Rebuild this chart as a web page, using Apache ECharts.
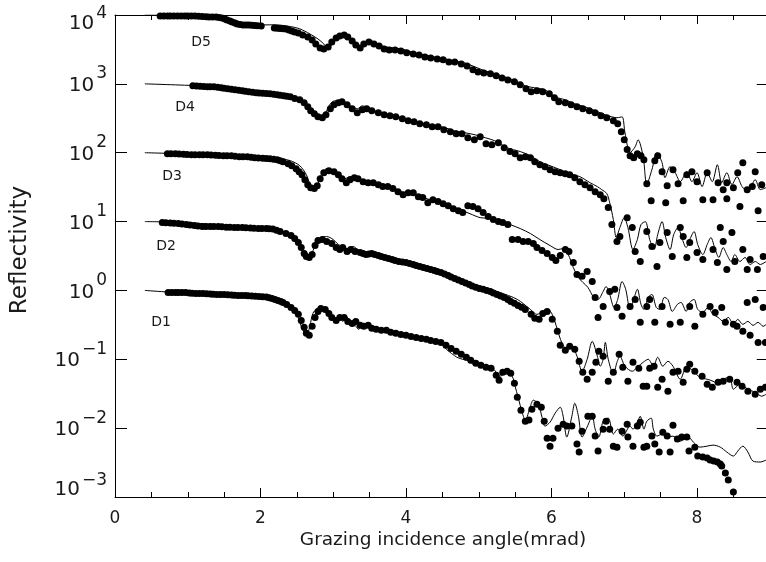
<!DOCTYPE html>
<html><head><meta charset="utf-8">
<script src="https://cdn.jsdelivr.net/npm/echarts@6/dist/echarts.min.js"></script>
<style>html,body{margin:0;padding:0;background:#fff}#c{width:766px;height:562px}</style>
</head><body><div id="c"></div>
<script>
// ---------------- DATA ----------------
const sampleNames = ['D1', 'D2', 'D3', 'D4', 'D5'];
const xTitle = 'Grazing incidence angle(mrad)';
const yTitle = 'Reflectivity';

const d1Dots = [[0.73,0.936],[0.78,0.936],[0.83,0.936],[0.87,0.936],[0.92,0.936],[0.97,0.93],[1.02,0.92],[1.06,0.912],[1.11,0.905],[1.16,0.905],[1.21,0.905],[1.26,0.898],[1.31,0.89],[1.35,0.883],[1.40,0.875],[1.45,0.875],[1.50,0.875],[1.55,0.868],[1.60,0.86],[1.64,0.853],[1.69,0.846],[1.74,0.846],[1.79,0.846],[1.83,0.838],[1.88,0.83],[1.93,0.825],[1.98,0.819],[2.03,0.812],[2.08,0.805],[2.12,0.786],[2.16,0.766],[2.20,0.74],[2.24,0.716],[2.28,0.693],[2.31,0.67],[2.36,0.627],[2.42,0.567],[2.47,0.513],[2.52,0.449],[2.56,0.367],[2.60,0.291],[2.63,0.238],[2.67,0.223],[2.71,0.301],[2.75,0.406],[2.79,0.496],[2.83,0.548],[2.89,0.53],[2.94,0.464],[2.98,0.406],[3.04,0.367],[3.09,0.406],[3.15,0.406],[3.20,0.355],[3.26,0.332],[3.31,0.355],[3.37,0.311],[3.42,0.301],[3.48,0.311],[3.53,0.282],[3.59,0.272],[3.66,0.263],[3.73,0.263],[3.79,0.246],[3.86,0.238],[3.93,0.23],[4.00,0.223],[4.07,0.215],[4.14,0.208],[4.21,0.201],[4.28,0.195],[4.34,0.188],[4.41,0.182],[4.48,0.176],[4.55,0.16],[4.62,0.144],[4.69,0.131],[4.76,0.118],[4.83,0.107],[4.89,0.0967],[4.96,0.0875],[5.03,0.0819],[5.10,0.0766],[5.17,0.0741],[5.24,0.0586],[5.28,0.0496],[5.33,0.0648],[5.39,0.067],[5.44,0.0627],[5.49,0.0449],[5.53,0.0282],[5.58,0.0182],[5.64,0.0126],[5.69,0.0131],[5.73,0.0188],[5.80,0.0223],[5.86,0.0201],[5.90,0.0126],[5.94,0.00716],[5.98,0.00548],[6.02,0.00716],[6.09,0.01],[6.16,0.0114],[6.21,0.0107],[6.28,0.0107],[6.35,0.00586],[6.38,0.00449],[6.42,0.00905],[6.50,0.0149],[6.56,0.0149],[6.60,0.00766],[6.64,0.00464],[6.71,0.00967],[6.75,0.0126],[6.80,0.00967],[6.85,0.00548],[6.90,0.0053],[6.97,0.00905],[7.04,0.0114],[7.05,0.00741],[7.12,0.00548],[7.18,0.0107],[7.22,0.0122],[7.27,0.0053],[7.31,0.00548],[7.38,0.00766],[7.42,0.00586],[7.48,0.00449],[7.53,0.00875],[7.59,0.00766],[7.63,0.00449],[7.67,0.011],[7.73,0.00693],[7.79,0.00741],[7.86,0.00741],[7.89,0.00464],[7.97,0.0053],[8.01,0.00393],[8.08,0.0038],[8.14,0.00367],[8.18,0.00344],[8.23,0.00332],[8.28,0.00322],[8.32,0.00301],[8.34,0.00282],[8.39,0.00223],[8.43,0.00176],[8.50,0.00118]];
const d1Fit = [[0.41,1],[0.73,0.95],[1.17,0.92],[1.58,0.875],[1.99,0.819],[2.16,0.766],[2.27,0.693],[2.38,0.606],[2.46,0.513],[2.52,0.406],[2.56,0.301],[2.60,0.246],[2.64,0.23],[2.68,0.311],[2.72,0.464],[2.78,0.548],[2.83,0.567],[2.89,0.53],[2.96,0.434],[3.02,0.38],[3.08,0.434],[3.13,0.355],[3.19,0.406],[3.24,0.355],[3.30,0.311],[3.35,0.272],[3.41,0.332],[3.46,0.311],[3.53,0.272],[3.64,0.255],[3.78,0.246],[3.92,0.23],[4.06,0.215],[4.19,0.208],[4.33,0.195],[4.47,0.17],[4.56,0.138],[4.70,0.107],[4.78,0.1],[4.88,0.0936],[4.92,0.0846],[5.20,0.0716],[5.29,0.0567],[5.39,0.0648],[5.46,0.0567],[5.50,0.0406],[5.54,0.0282],[5.60,0.0165],[5.64,0.0131],[5.71,0.0208],[5.75,0.0255],[5.82,0.0223],[5.87,0.0144],[5.91,0.0107],[5.98,0.0122],[6.05,0.0165],[6.12,0.0201],[6.16,0.0149],[6.21,0.00741],[6.28,0.0149],[6.32,0.023],[6.37,0.0149],[6.42,0.00741],[6.49,0.0104],[6.56,0.0149],[6.60,0.00967],[6.65,0.00741],[6.71,0.0126],[6.78,0.014],[6.85,0.00819],[6.91,0.00967],[6.98,0.00766],[7.08,0.0107],[7.12,0.00967],[7.18,0.0122],[7.22,0.0149],[7.27,0.00967],[7.31,0.0126],[7.37,0.014],[7.40,0.00967],[7.45,0.00766],[7.52,0.00819],[7.59,0.00741],[7.67,0.00766],[7.77,0.00648],[7.88,0.00741],[7.95,0.00627],[8.04,0.0053],[8.14,0.00548],[8.22,0.00567],[8.32,0.0053],[8.41,0.00449],[8.50,0.00393],[8.56,0.00464],[8.63,0.00548],[8.70,0.00449],[8.77,0.00332],[8.87,0.00322],[8.95,0.00344]];

const d2Dots = [[0.65,9.67],[0.70,9.6],[0.76,9.5],[0.81,9.43],[0.87,9.36],[0.92,9.2],[0.98,9.05],[1.03,8.9],[1.09,8.75],[1.14,8.6],[1.20,8.46],[1.25,8.46],[1.31,8.46],[1.36,8.46],[1.42,8.46],[1.47,8.38],[1.53,8.3],[1.58,8.25],[1.64,8.19],[1.69,8.19],[1.75,8.19],[1.80,8.12],[1.86,8.05],[1.91,7.98],[1.97,7.92],[2.02,7.92],[2.08,7.92],[2.12,7.86],[2.17,7.8],[2.22,7.5],[2.27,7.16],[2.35,6.7],[2.42,6.27],[2.47,5.67],[2.52,4.96],[2.56,4.2],[2.60,3.44],[2.63,3.11],[2.67,3.01],[2.71,3.32],[2.75,4.49],[2.79,5.3],[2.85,5.48],[2.91,5.13],[2.98,4.8],[3.04,4.2],[3.09,3.93],[3.13,4.2],[3.19,3.67],[3.24,3.93],[3.30,3.67],[3.37,3.55],[3.41,3.45],[3.45,3.32],[3.49,3.38],[3.53,3.44],[3.57,3.33],[3.62,3.22],[3.66,3.11],[3.71,3.01],[3.76,2.92],[3.81,2.82],[3.85,2.72],[3.90,2.63],[3.95,2.59],[4.00,2.55],[4.05,2.46],[4.10,2.38],[4.14,2.3],[4.19,2.23],[4.24,2.15],[4.29,2.08],[4.34,2.01],[4.39,1.95],[4.43,1.88],[4.48,1.82],[4.53,1.73],[4.58,1.65],[4.62,1.57],[4.67,1.49],[4.72,1.42],[4.77,1.35],[4.82,1.28],[4.87,1.22],[4.91,1.16],[4.96,1.11],[5.01,1.07],[5.06,1.04],[5.11,1.0],[5.16,0.967],[5.20,0.92],[5.25,0.875],[5.30,0.83],[5.35,0.792],[5.40,0.74],[5.44,0.693],[5.49,0.65],[5.54,0.606],[5.59,0.57],[5.64,0.53],[5.72,0.449],[5.77,0.393],[5.83,0.38],[5.88,0.464],[5.94,0.496],[6.01,0.38],[6.08,0.255],[6.12,0.16],[6.19,0.135],[6.25,0.154],[6.32,0.14],[6.38,0.0936],[6.43,0.0648],[6.49,0.0513],[6.56,0.0648],[6.61,0.0905],[6.65,0.131],[6.71,0.111],[6.78,0.048],[6.85,0.0648],[6.93,0.118],[6.98,0.0766],[7.05,0.048],[7.12,0.0905],[7.20,0.0741],[7.26,0.0406],[7.31,0.0406],[7.35,0.0741],[7.41,0.0792],[7.46,0.0393],[7.52,0.0513],[7.60,0.0344],[7.67,0.0648],[7.74,0.067],[7.81,0.0464],[7.86,0.0716],[7.90,0.0846],[7.97,0.067],[8.07,0.0567],[8.14,0.0434],[8.21,0.0393],[8.29,0.0464],[8.36,0.048],[8.45,0.0513],[8.55,0.0464],[8.62,0.0406],[8.70,0.0344],[8.80,0.0311],[8.87,0.0367],[8.94,0.0393]];
const d2Fit = [[0.41,10],[0.76,9.84],[1.17,9.36],[1.58,8.75],[1.99,8.19],[2.20,7.66],[2.34,6.93],[2.43,6.06],[2.50,5.13],[2.56,4.06],[2.60,3.32],[2.65,3.01],[2.71,3.55],[2.76,4.8],[2.83,5.86],[2.91,6.06],[3.00,5.48],[3.07,4.64],[3.13,4.34],[3.20,4.06],[3.27,4.34],[3.34,3.93],[3.42,3.55],[3.51,3.55],[3.64,3.22],[3.78,3.01],[3.92,2.72],[4.06,2.55],[4.19,2.3],[4.33,2.08],[4.47,1.88],[4.61,1.65],[4.74,1.4],[4.88,1.22],[5.06,1.13],[5.29,0.936],[5.53,0.741],[5.71,0.53],[5.80,0.449],[5.88,0.496],[5.95,0.53],[6.01,0.449],[6.08,0.272],[6.14,0.176],[6.21,0.14],[6.28,0.154],[6.35,0.111],[6.42,0.067],[6.49,0.1],[6.56,0.182],[6.63,0.111],[6.67,0.0792],[6.71,0.1],[6.74,0.176],[6.78,0.1],[6.85,0.0606],[6.90,0.0905],[6.94,0.111],[7.01,0.0792],[7.11,0.067],[7.18,0.0766],[7.26,0.0905],[7.33,0.1],[7.40,0.0792],[7.46,0.107],[7.53,0.0792],[7.60,0.0936],[7.67,0.0792],[7.77,0.0513],[7.86,0.0792],[7.95,0.067],[8.04,0.0548],[8.14,0.0513],[8.22,0.048],[8.29,0.0434],[8.36,0.0513],[8.45,0.0548],[8.50,0.0367],[8.59,0.0434],[8.70,0.0367],[8.80,0.0332],[8.89,0.0291],[8.95,0.0311]];

const d3Dots = [[0.72,96.7],[0.77,96.7],[0.83,96.7],[0.88,95.8],[0.94,95],[0.99,94.3],[1.05,93.6],[1.10,93.6],[1.16,93.6],[1.21,93.6],[1.27,93.6],[1.32,92.8],[1.38,92],[1.43,91.2],[1.49,90.5],[1.54,90.5],[1.60,90.5],[1.65,89],[1.71,87.5],[1.76,87.5],[1.82,87.5],[1.87,86],[1.92,84.6],[1.97,83.8],[2.03,83],[2.08,82.4],[2.13,81.9],[2.18,80.5],[2.23,79.2],[2.27,76.6],[2.31,74.1],[2.38,69.3],[2.43,64.8],[2.49,58.6],[2.53,53],[2.57,48],[2.61,40.6],[2.65,34.4],[2.69,31.1],[2.74,30.1],[2.78,33.2],[2.82,42],[2.87,51.3],[2.94,54.8],[3.01,53],[3.07,48],[3.12,42],[3.18,36.7],[3.23,40.6],[3.29,43.4],[3.34,42],[3.41,38],[3.48,36.7],[3.55,36.7],[3.62,34.4],[3.68,32.2],[3.75,32.2],[3.82,30.1],[3.89,27.2],[3.96,24.6],[4.03,26.3],[4.10,26.3],[4.17,23],[4.23,22.3],[4.30,18.8],[4.37,20.8],[4.44,19.5],[4.51,18.2],[4.58,17],[4.65,15.4],[4.72,14.4],[4.78,13.5],[4.85,17],[4.92,16.5],[4.99,15.4],[5.06,13.5],[5.13,11.8],[5.20,10.7],[5.27,10],[5.33,9.67],[5.40,9.05],[5.46,5.48],[5.54,5.48],[5.61,5.13],[5.68,5.13],[5.75,4.8],[5.80,4.2],[5.87,3.8],[5.94,3.44],[6.01,3.01],[6.06,2.72],[6.12,3.22],[6.19,3.93],[6.24,3.67],[6.30,2.55],[6.35,1.7],[6.42,1.6],[6.49,1.88],[6.56,1.35],[6.60,0.792],[6.64,0.406],[6.71,0.586],[6.80,0.967],[6.87,1.04],[6.90,0.567],[6.97,0.42],[7.08,0.586],[7.15,0.741],[7.22,0.344],[7.31,0.586],[7.35,0.741],[7.42,0.344],[7.52,0.586],[7.63,0.322],[7.77,0.344],[7.90,0.586],[7.97,0.301],[8.08,0.449],[8.18,0.586],[8.25,0.48],[8.34,0.567],[8.39,0.344],[8.50,0.322],[8.55,0.301],[8.63,0.255],[8.69,0.67],[8.73,0.223],[8.80,0.741],[8.84,0.176],[8.91,0.567],[8.94,0.176]];
const d3Fit = [[0.41,100],[1.17,95],[1.86,90.5],[2.20,84.6],[2.41,76.6],[2.54,64.8],[2.63,48],[2.68,34.4],[2.72,29.1],[2.78,33.2],[2.83,46.4],[2.91,58.6],[3.00,54.8],[3.09,46.4],[3.16,42],[3.23,44.9],[3.31,40.6],[3.40,39.3],[3.51,36.7],[3.64,33.2],[3.78,30.1],[3.92,27.2],[4.06,25.5],[4.19,23],[4.33,20.8],[4.47,18.8],[4.61,17],[4.74,14.9],[4.88,13],[5.02,11.4],[5.16,11.1],[5.29,10.4],[5.43,9.05],[5.57,7.92],[5.71,6.7],[5.84,5.48],[5.98,4.49],[6.09,3.93],[6.16,4.06],[6.23,3.32],[6.30,2.15],[6.37,1.54],[6.43,1.31],[6.50,1.11],[6.58,0.792],[6.64,0.741],[6.71,0.967],[6.75,1.14],[6.80,0.875],[6.86,0.567],[6.91,0.741],[6.97,1.35],[7.02,1.04],[7.08,0.53],[7.13,0.741],[7.18,1.04],[7.23,0.627],[7.27,0.53],[7.33,0.792],[7.38,0.875],[7.44,0.567],[7.49,0.53],[7.55,0.792],[7.60,0.741],[7.66,0.496],[7.73,0.627],[7.78,0.67],[7.85,0.496],[7.90,0.67],[7.96,0.741],[8.01,0.53],[8.08,0.48],[8.15,0.567],[8.22,0.449],[8.29,0.406],[8.36,0.355],[8.43,0.406],[8.50,0.322],[8.56,0.38],[8.63,0.322],[8.70,0.355],[8.77,0.311],[8.84,0.344],[8.91,0.301],[8.95,0.322]];

const d4Dots = [[1.07,936],[1.12,928],[1.17,920],[1.22,912],[1.27,905],[1.31,905],[1.36,905],[1.41,890],[1.46,875],[1.50,860],[1.55,846],[1.60,832],[1.65,819],[1.70,805],[1.75,792],[1.79,779],[1.84,766],[1.89,753],[1.94,741],[1.98,734],[2.03,728],[2.08,722],[2.13,716],[2.18,704],[2.23,693],[2.27,681],[2.32,670],[2.36,659],[2.41,648],[2.47,615],[2.54,586],[2.60,530],[2.65,464],[2.69,406],[2.74,367],[2.79,332],[2.85,322],[2.90,355],[2.96,434],[3.01,496],[3.07,530],[3.12,548],[3.19,496],[3.26,434],[3.33,380],[3.40,420],[3.46,434],[3.53,406],[3.62,380],[3.70,355],[3.78,344],[3.86,332],[3.95,311],[4.03,291],[4.11,282],[4.19,263],[4.28,255],[4.36,238],[4.44,238],[4.52,215],[4.61,201],[4.69,188],[4.77,188],[4.85,165],[4.94,154],[5.02,170],[5.10,135],[5.18,131],[5.27,140],[5.35,118],[5.43,104],[5.50,96.7],[5.57,84.6],[5.64,87.5],[5.71,84.6],[5.77,74.1],[5.84,67],[5.91,62.7],[5.98,56.7],[6.05,53],[6.12,51.3],[6.19,49.6],[6.25,48],[6.32,43.4],[6.39,38],[6.46,34.4],[6.53,31.1],[6.60,27.2],[6.67,24.6],[6.72,21.5],[6.78,16],[6.83,9.05],[6.90,5.13],[6.94,6.06],[7.04,11.4],[7.11,8.19],[7.15,3.67],[7.22,2.63],[7.31,7.16],[7.38,4.34],[7.45,2.23],[7.49,4.96],[7.59,6.93],[7.66,3.11],[7.77,8.19],[7.81,6.06],[7.86,3.01],[7.90,4.96],[8.00,3.55],[8.08,2.82],[8.22,3.93],[8.28,2.55],[8.32,8.19],[8.36,5.13],[8.41,2.01],[8.48,6.93],[8.52,2.63],[8.59,16.5],[8.63,3.93],[8.69,2.01],[8.73,2.82],[8.83,2.01],[8.84,14.4],[8.91,3.11]];
const d4Fit = [[0.41,1000],[1.17,936],[1.58,875],[1.99,766],[2.41,670],[2.54,606],[2.65,496],[2.74,393],[2.82,344],[2.89,380],[2.96,513],[3.02,567],[3.09,548],[3.18,513],[3.26,464],[3.33,434],[3.40,480],[3.48,449],[3.57,406],[3.71,367],[3.85,344],[3.99,311],[4.12,291],[4.26,263],[4.40,246],[4.54,230],[4.67,208],[4.81,195],[4.95,182],[5.09,165],[5.22,149],[5.39,118],[5.57,104],[5.71,90.5],[5.84,74.1],[5.98,64.8],[6.12,56.7],[6.25,49.6],[6.39,44.9],[6.53,36.7],[6.63,32.2],[6.69,29.1],[6.76,25.5],[6.80,18.8],[6.85,10.7],[6.89,5.86],[6.94,8.19],[7.00,11.4],[7.05,8.19],[7.12,3.93],[7.18,5.48],[7.23,9.05],[7.29,10],[7.35,5.48],[7.41,3.93],[7.46,6.48],[7.52,10],[7.57,5.86],[7.63,3.93],[7.68,6.48],[7.74,8.19],[7.79,5.86],[7.85,4.2],[7.90,5.48],[7.96,7.16],[8.01,4.64],[8.08,3.32],[8.14,4.64],[8.19,5.86],[8.25,3.93],[8.30,3.01],[8.36,4.2],[8.41,3.32],[8.47,2.63],[8.52,3.32],[8.59,2.63],[8.66,3.01],[8.73,2.38],[8.80,2.63],[8.87,2.38],[8.95,2.63]];

const d5Dots = [[0.62,9670],[0.67,9670],[0.72,9670],[0.76,9670],[0.81,9670],[0.86,9670],[0.91,9670],[0.96,9670],[1.00,9670],[1.05,9670],[1.10,9670],[1.15,9580],[1.20,9500],[1.25,9430],[1.29,9360],[1.34,9360],[1.39,9360],[1.43,9200],[1.47,9050],[1.51,8750],[1.54,8460],[1.58,8190],[1.61,7920],[1.65,7660],[1.68,7410],[1.72,7280],[1.76,7160],[1.80,7160],[1.84,7160],[1.88,7100],[1.92,7050],[1.96,7000],[2.01,6930],[2.19,6480],[2.23,6410],[2.27,6350],[2.31,6310],[2.35,6270],[2.39,6060],[2.43,5860],[2.47,5670],[2.52,5480],[2.58,5130],[2.65,4800],[2.71,4340],[2.76,3800],[2.82,3320],[2.87,3220],[2.93,3440],[2.98,4060],[3.04,4640],[3.09,4960],[3.15,5130],[3.20,4800],[3.26,4200],[3.31,3670],[3.37,3320],[3.42,3800],[3.49,4060],[3.56,3800],[3.63,3550],[3.70,3220],[3.77,3110],[3.85,3110],[3.93,3010],[4.01,2820],[4.10,2720],[4.18,2630],[4.26,2460],[4.34,2380],[4.43,2300],[4.51,2230],[4.59,2080],[4.67,2080],[4.76,1950],[4.84,1820],[4.92,1600],[4.99,1490],[5.07,1440],[5.16,1400],[5.24,1310],[5.32,1220],[5.40,1140],[5.49,1070],[5.57,967],[5.65,846],[5.72,766],[5.80,792],[5.88,766],[5.97,716],[6.04,627],[6.10,548],[6.19,530],[6.27,496],[6.35,464],[6.43,434],[6.52,406],[6.60,380],[6.68,344],[6.76,322],[6.85,291],[6.91,263],[6.96,201],[7.00,154],[7.04,111],[7.08,90.5],[7.13,84.6],[7.18,96.7],[7.23,90.5],[7.27,79.2],[7.31,35.5],[7.37,20.1],[7.42,76.6],[7.46,90.5],[7.52,53],[7.57,18.8],[7.59,33.2],[7.67,56.7],[7.74,35.5],[7.81,20.1],[7.86,48],[7.93,53],[8.00,38],[8.08,20.8],[8.14,51.3],[8.22,20.8],[8.29,36.7],[8.36,29.1],[8.41,21.5],[8.41,36.7],[8.50,31.1],[8.56,51.3],[8.63,71.6],[8.69,29.1],[8.76,32.2],[8.80,53],[8.89,34.4]];
const d5Fit = [[0.41,10000],[1.17,9840],[1.38,9360],[1.51,8750],[1.65,7660],[1.86,7160],[2.20,7200],[2.41,6800],[2.54,6300],[2.68,5300],[2.79,4490],[2.87,3800],[2.93,3220],[3.00,4060],[3.07,4960],[3.13,5300],[3.22,4800],[3.30,3930],[3.37,3440],[3.44,3930],[3.52,4200],[3.62,3800],[3.71,3440],[3.85,3320],[3.99,3110],[4.12,2820],[4.26,2630],[4.40,2460],[4.54,2300],[4.67,2150],[4.81,2010],[4.95,1760],[5.09,1540],[5.22,1400],[5.36,1260],[5.50,1110],[5.64,936],[5.77,875],[5.91,819],[6.05,648],[6.19,586],[6.32,513],[6.46,464],[6.60,406],[6.74,355],[6.83,332],[6.90,322],[6.97,332],[7.01,195],[7.08,100],[7.15,122],[7.19,154],[7.26,87.5],[7.31,34.4],[7.38,56.7],[7.45,100],[7.52,71.6],[7.56,43.4],[7.63,62.7],[7.70,51.3],[7.77,38],[7.86,53],[7.93,38],[8.00,51.3],[8.07,32.2],[8.14,51.3],[8.21,38],[8.28,67],[8.34,36.7],[8.41,51.3],[8.48,34.4],[8.55,44.9],[8.62,32.2],[8.70,27.2],[8.80,40.6],[8.87,29.1],[8.95,31.1]];

const allDots = [d1Dots, d2Dots, d3Dots, d4Dots, d5Dots];
const allFits = [d1Fit, d2Fit, d3Fit, d4Fit, d5Fit];

// ---------------- LAYOUT / STYLE ----------------
const FONT = 'DejaVu Sans';
const TXT = '#1a1a1a';
const nameLabelPos = [[161, 322], [166, 246], [172, 176], [185, 107], [201, 42]];

function yLabel(v) {
  const e = Math.round(Math.log10(v));
  const exp = e < 0 ? '\u2212' + (-e) : String(e);
  let k = '';
  if (e === 4) k = 't'; else if (e === -3) k = 'd';
  return '{b' + k + '|10}{s' + k + '|' + exp + '}';
}
const bs = { fontSize: 20, fontFamily: FONT, color: TXT };
const ss = { fontSize: 17, fontFamily: FONT, color: TXT };
const rich = {
  b: Object.assign({}, bs, { padding: [4, 0, 0, 0] }),
  s: Object.assign({}, ss, { padding: [0, 0, 20, 2] }),
  bt: Object.assign({}, bs, { padding: [18, 0, 0, 0] }),
  st: Object.assign({}, ss, { padding: [0, 0, 3, 2] }),
  bd: Object.assign({}, bs, { padding: [0, 0, 14, 0] }),
  sd: Object.assign({}, ss, { padding: [0, 0, 32, 2] })
};

const black = { color: '#000', width: 1 };
const xCommon = {
  type: 'value', min: 0, max: 10, interval: 2,
  splitLine: { show: false },
  axisLine: { show: true, onZero: false, lineStyle: black },
  axisTick: { show: true, inside: true, length: 9, lineStyle: black },
  minorTick: { show: true, splitNumber: 4, length: 5, lineStyle: black },
  minorSplitLine: { show: false }
};
const yCommon = {
  type: 'log', logBase: 10, min: 0.001, max: 10000, interval: 1, splitNumber: 7,
  splitLine: { show: false },
  axisLine: { show: true, onZero: false, lineStyle: black },
  axisTick: { show: true, inside: true, length: 12, lineStyle: black },
  minorTick: { show: false }
};

const series = [];
allFits.forEach(function (f) {
  series.push({ type: 'line', data: f, symbol: 'none', showSymbol: false, smooth: 0.3,
    lineStyle: { color: '#000', width: 1 }, z: 2, silent: true });
});
allDots.forEach(function (d) {
  series.push({ type: 'scatter', data: d, symbol: 'circle', symbolSize: 7,
    itemStyle: { color: '#000', opacity: 1 }, z: 3, silent: true });
});

const graphic = [
  { type: 'text', x: 20, y: 250, rotation: Math.PI / 2,
    style: { text: yTitle, fontSize: 23, fontFamily: FONT, fill: TXT, align: 'center', verticalAlign: 'middle' } },
  { type: 'text', x: 443, y: 540,
    style: { text: xTitle, fontSize: 18.5, fontFamily: FONT, fill: TXT, align: 'center', verticalAlign: 'middle' } }
];
sampleNames.forEach(function (n, i) {
  graphic.push({ type: 'text', x: nameLabelPos[i][0], y: nameLabelPos[i][1],
    style: { text: n, fontSize: 14, fontFamily: FONT, fill: TXT, align: 'center', verticalAlign: 'middle' } });
});

const chart = echarts.init(document.getElementById('c'), null, { renderer: 'canvas' });
chart.setOption({
  animation: false,
  backgroundColor: '#fff',
  grid: { left: 115, right: -76.5, top: 15, bottom: 65, containLabel: false, outerBoundsMode: 'none' },
  xAxis: [
    Object.assign({}, xCommon, { position: 'bottom',
      axisLabel: { show: true, margin: 13, fontSize: 17, fontFamily: FONT, color: TXT } }),
    Object.assign({}, xCommon, { position: 'top', axisLabel: { show: false } })
  ],
  yAxis: [
    Object.assign({}, yCommon, { position: 'left',
      axisLabel: { show: true, margin: 8, formatter: yLabel, rich: rich } }),
    Object.assign({}, yCommon, { position: 'right', offset: -73.75, axisLabel: { show: false } })
  ],
  series: series,
  graphic: graphic
});
</script></body></html>
